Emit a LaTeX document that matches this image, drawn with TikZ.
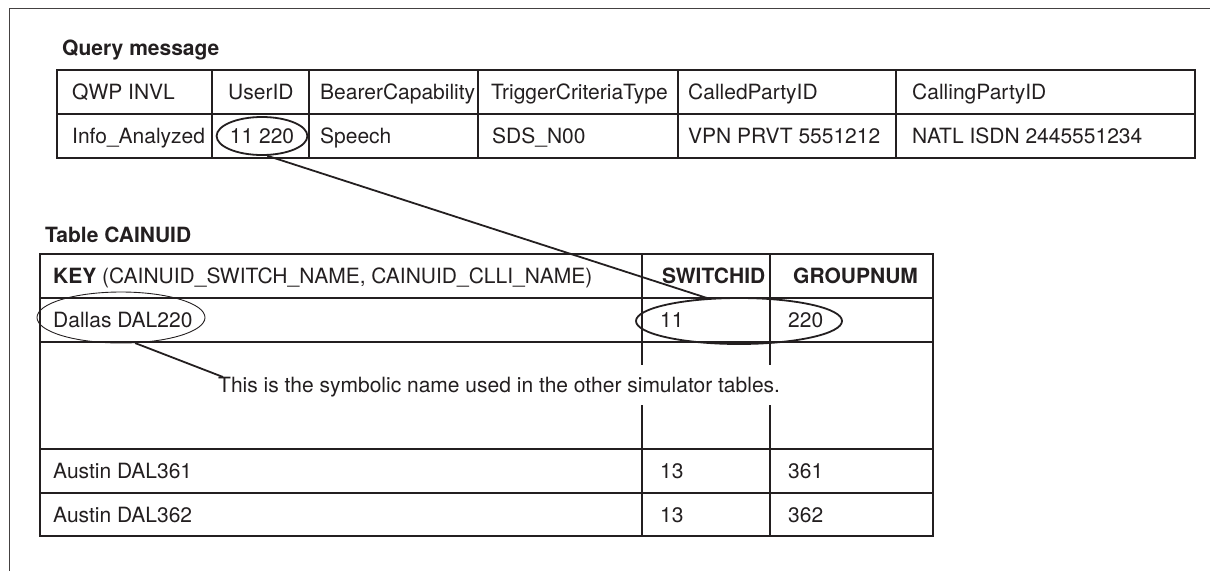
\documentclass[tikz,border=0pt]{standalone}
\usepackage{fontspec}
\setmainfont{TeX Gyre Heros}
\usetikzlibrary{shapes.geometric}
\definecolor{ink}{HTML}{231F20}
\begin{document}
\begin{tikzpicture}[x=1pt,y=-1pt,
  every node/.style={font=\fontsize{21}{25}\selectfont, text=ink, inner sep=0pt},
  cell/.style={anchor=base west},
  titlelbl/.style={anchor=base west, font=\fontsize{21}{25}\selectfont\bfseries},
  grid/.style={draw=ink, line width=1.8pt},
  framed/.style={draw=ink!85, line width=1pt},
  thickoval/.style={draw=ink, line width=1.8pt, ellipse, inner sep=0pt},
  thinoval/.style={draw=ink, line width=0.9pt, ellipse, inner sep=0pt},
  pointer/.style={draw=ink, line width=1.8pt}]
\useasboundingbox (0,0) rectangle (1210,571);
% outer frame (top and left edges)
\draw[framed] (1210,8) -- (9,8) -- (9,571);

% ---------- Query message ----------
\node[titlelbl] (qtitle) at (62,55.5) {Query message};
\draw[grid] (57,70) rectangle (1195,158);
\draw[grid] (57,114) -- (1195,114);
\foreach \x in {212,309,478,678,896} \draw[grid] (\x,70) -- (\x,158);

\node[cell] (h1) at (72,99.5) {QWP INVL};
\node[cell] (h2) at (228,99.5) {UserID};
\node[cell] (h3) at (320,99.5) {BearerCapability};
\node[cell] (h4) at (491,99.5) {TriggerCriteriaType};
\node[cell] (h5) at (688,99.5) {CalledPartyID};
\node[cell] (h6) at (912,99.5) {CallingPartyID};

\node[cell] (v1) at (72,143.5) {Info\_Analyzed};
\node[thickoval, minimum width=88pt, minimum height=38pt] (uid) at (262,136) {11 220};
\node[cell] (v3) at (320,143.5) {Speech};
\node[cell] (v4) at (492,143.5) {SDS\_N00};
\node[cell] (v5) at (688,143.5) {VPN PRVT 5551212};
\node[cell] (v6) at (912,143.5) {NATL ISDN 2445551234};

% ---------- Table CAINUID ----------
\node[titlelbl] (ttitle) at (45,242.5) {Table CAINUID};
\draw[grid] (40,254) rectangle (933,536);
\foreach \y in {298,342,449,493} \draw[grid] (40,\y) -- (933,\y);
\foreach \x in {642,770} {
  \draw[grid] (\x,254) -- (\x,365);
  \draw[grid] (\x,405) -- (\x,536);
}

\node[cell] (k1) at (53,283.5) {\textbf{KEY} (CAINUID\_SWITCH\_NAME, CAINUID\_CLLI\_NAME)};
\node[cell, font=\fontsize{21}{25}\selectfont\bfseries] (k2) at (662,283.5) {SWITCHID};
\node[cell, font=\fontsize{21}{25}\selectfont\bfseries] (k3) at (793,283.5) {GROUPNUM};

\node[cell] (d1) at (53,327.5) {Dallas DAL220};
\node[cell] (d2) at (660,327.5) {11};
\node[cell] (d3) at (788,327.5) {220};

\node[cell] (a1) at (53,478.5) {Austin DAL361};
\node[cell] (a2) at (660,478.5) {13};
\node[cell] (a3) at (788,478.5) {361};

\node[cell] (b1) at (53,522) {Austin DAL362};
\node[cell] (b2) at (660,522) {13};
\node[cell] (b3) at (788,522) {362};

\node[cell] (note) at (218,392.5) {This is the symbolic name used in the other simulator tables.};

% ellipses
\node[thickoval, minimum width=206pt, minimum height=46pt] (sw) at (739,321) {};
\node[thinoval, minimum width=168pt, minimum height=51pt] (dal) at (121,317.5) {};

% connectors
\draw[pointer] (uid.-75) -- (sw.144);
\draw[pointer] (dal.-61) -- ([xshift=5pt]note.north west);
\end{tikzpicture}
\end{document}
